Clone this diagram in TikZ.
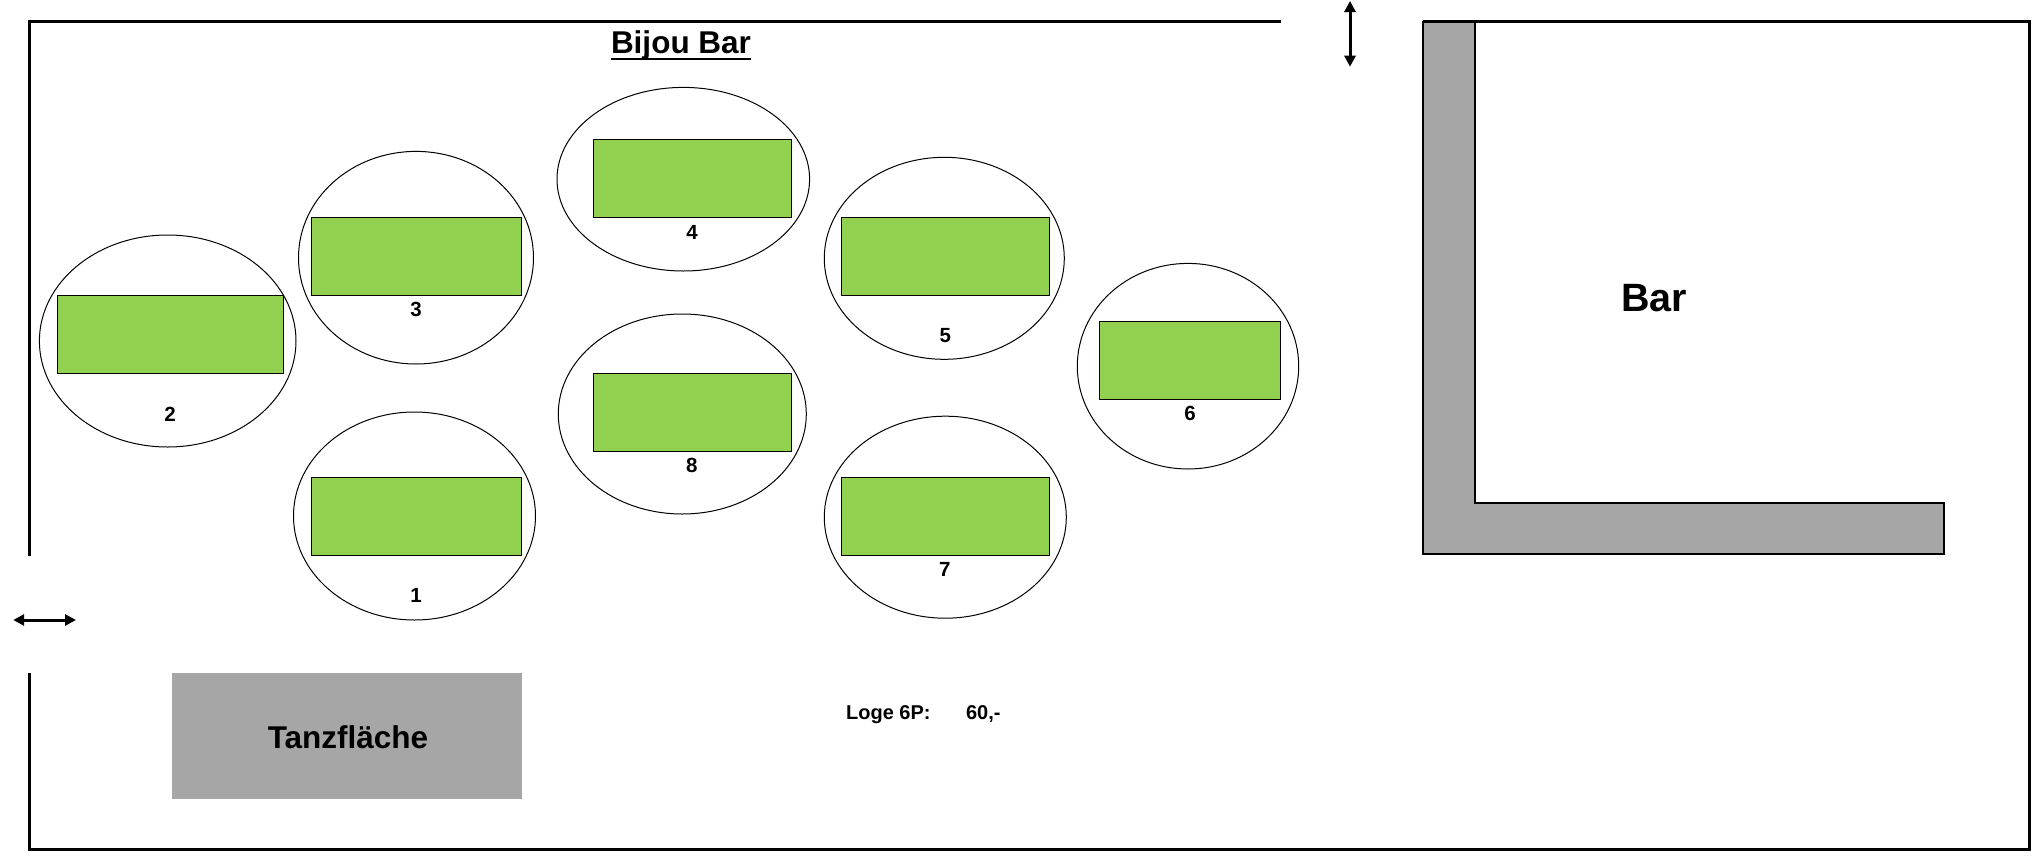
\documentclass[tikz,border=0pt]{standalone}
\usepackage{fontspec}
\setmainfont{Liberation Sans}
\usetikzlibrary{shapes.geometric,arrows.meta}
\definecolor{tablegreen}{HTML}{92D050}
\definecolor{floorgray}{HTML}{A6A6A6}
\begin{document}
\begin{tikzpicture}[x=0.5pt,y=-0.5pt,
  wall/.style={line width=1.5pt},
  seat/.style={draw, ellipse, line width=0.5pt, inner sep=0pt},
  tablebox/.style={draw, fill=tablegreen, line width=0.65pt},
  num/.style={font=\bfseries\fontsize{10.25}{12}\selectfont, inner sep=0pt},
  bigtext/.style={font=\bfseries\fontsize{15.75}{18}\selectfont, inner sep=0pt},
  bartext/.style={font=\bfseries\fontsize{19.75}{22}\selectfont, inner sep=0pt},
  smalltext/.style={font=\bfseries\fontsize{10}{12}\selectfont, inner sep=0pt},
  door/.style={line width=1.5pt, {Triangle[length=5.5pt,width=5.5pt]}-{Triangle[length=5.5pt,width=5.5pt]}}
]
\useasboundingbox (0,0) rectangle (2042,857);
\fill[white] (0,0) rectangle (2042,857);

% walls
\draw[wall] (1280.7,21.5) -- (29.3,21.5) -- (29.3,555.7);
\draw[wall] (29.3,673.3) -- (29.3,849.5) -- (2029,849.5) -- (2029,21.5) -- (1423,21.5);
\draw[white, line width=0.5pt] (842,851.2) -- (1049,851.2);

% bar counter
\draw[fill=floorgray, line width=1pt] (1423,21.5) -- (1475,21.5) -- (1475,503) -- (1943.5,503)
  -- (1943.5,554.3) -- (1423,554.3) -- cycle;
\node[bartext, anchor=base west] (bar) at (1621,311.7) {Bar};

% doors
\coordinate (d1a) at (1350,1);
\coordinate (d1b) at (1350,66.7);
\draw[door] (d1a) -- (d1b);
\coordinate (d2a) at (13.2,620);
\coordinate (d2b) at (76,620);
\draw[door] (d2a) -- (d2b);

% title
\node[bigtext, anchor=base] (title) at (681,53.3) {Bijou Bar};
\draw[line width=1pt] ([yshift=-2.85pt]title.base west) -- ([yshift=-2.85pt]title.base east);

% seating areas
\node[seat, minimum width=121pt, minimum height=104pt] (e1) at (414.5,516) {};
\node[seat, minimum width=128.3pt, minimum height=106pt] (e2) at (167.7,341) {};
\node[seat, minimum width=117.5pt, minimum height=106.3pt] (e3) at (416,257.7) {};
\node[seat, minimum width=126.3pt, minimum height=91.8pt] (e4) at (683.3,179.2) {};
\node[seat, minimum width=120pt, minimum height=101pt] (e5) at (944.3,258.3) {};
\node[seat, minimum width=110.7pt, minimum height=102.8pt] (e6) at (1188,366.2) {};
\node[seat, minimum width=121pt, minimum height=101pt] (e7) at (945.3,517.2) {};
\node[seat, minimum width=124pt, minimum height=100pt] (e8) at (682.3,414) {};

% tables
\draw[tablebox] (311.4,477.3) rectangle (521.8,555.3);
\draw[tablebox] (57.3,295.3) rectangle (283.3,373.3);
\draw[tablebox] (311.3,217.3) rectangle (521.5,295.3);
\draw[tablebox] (593.2,139.3) rectangle (791.8,217.7);
\draw[tablebox] (841.3,217.3) rectangle (1049.7,295.3);
\draw[tablebox] (1099.3,321.3) rectangle (1280.7,399.3);
\draw[tablebox] (841.3,477.3) rectangle (1049.7,555.3);
\draw[tablebox] (593.2,373.3) rectangle (791.8,451.3);

% numbers
\node[num] (n1) at (416,595.7) {1};
\node[num] (n2) at (170,414) {2};
\node[num] (n3) at (416,309) {3};
\node[num] (n4) at (692,232) {4};
\node[num] (n5) at (945.3,335.7) {5};
\node[num] (n6) at (1190,413.3) {6};
\node[num] (n7) at (944.7,569.3) {7};
\node[num] (n8) at (691.8,465.7) {8};

% dance floor
\fill[floorgray] (172,673.3) rectangle (522,798.7);
\node[bigtext, anchor=base] (tanz) at (348,748.3) {Tanzfläche};

% price
\node[smalltext, anchor=base west] (loge) at (845.7,719.3) {Loge 6P:};
\node[smalltext, anchor=base west] (price) at (965.7,719.3) {60,-};
\end{tikzpicture}
\end{document}
